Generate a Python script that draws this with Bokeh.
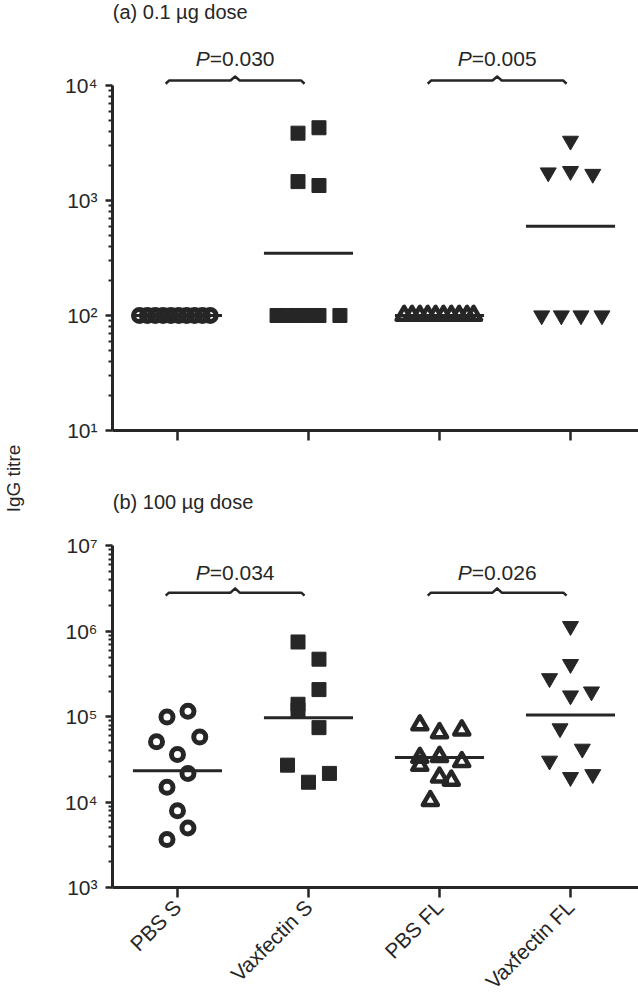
import math
from bokeh.plotting import figure
from bokeh.models import Range1d, FixedTicker, Label
from bokeh.layouts import row, column
from bokeh.embed import file_html
from bokeh.resources import INLINE
from bokeh.core.properties import value

INK = "#262626"
FONT = "Liberation Sans"

groups = ["PBS S", "Vaxfectin S", "PBS FL", "Vaxfectin FL"]
group_x = [1, 2, 3, 4]
markers = ["circle", "square", "triangle", "inverted_triangle"]

# ---------------- panel (a) 0.1 ug dose ----------------
a_pbs_s = [100, 100, 100, 100, 100, 100, 100, 100, 100, 100]
a_pbs_s_dx = [-0.29, -0.23, -0.17, -0.11, -0.05, 0.01, 0.07, 0.13, 0.19, 0.25]
a_vax_s = [3850, 4290, 1460, 1350, 100, 100, 100, 100, 100, 100]
a_vax_s_dx = [-0.08, 0.08, -0.08, 0.08, -0.24, -0.16, -0.08, 0.0, 0.08, 0.24]
a_pbs_fl = [100, 100, 100, 100, 100, 100, 100, 100, 100, 100]
a_pbs_fl_dx = [-0.27, -0.21, -0.15, -0.09, -0.03, 0.03, 0.09, 0.15, 0.21, 0.26]
a_vax_fl = [3300, 1750, 1800, 1700, 100, 100, 100, 100]
a_vax_fl_dx = [0.0, -0.17, 0.0, 0.17, -0.22, -0.07, 0.08, 0.24]
a_means = [100, 348, 100, 598]
a_pvalues = ["0.030", "0.005"]

# ---------------- panel (b) 100 ug dose ----------------
b_pbs_s = [99000, 116000, 50800, 58000, 36100, 21700, 14900, 7900, 4990, 3650]
b_pbs_s_dx = [-0.08, 0.08, -0.16, 0.17, 0.0, 0.08, -0.08, 0.0, 0.08, -0.08]
b_vax_s = [751000, 472000, 208000, 140000, 120000, 74500, 27100, 17100, 21700]
b_vax_s_dx = [-0.08, 0.08, 0.08, -0.08, -0.08, 0.08, -0.16, 0.0, 0.16]
b_pbs_fl = [80000, 64800, 69700, 33300, 26900, 34100, 29700, 19600, 18000, 10400]
b_pbs_fl_dx = [-0.15, 0.0, 0.17, -0.15, -0.15, 0.0, 0.17, 0.0, 0.09, -0.07]
b_vax_fl = [1150000, 413000, 282000, 177000, 197000, 72900, 42100, 30500, 19600, 21200]
b_vax_fl_dx = [0.0, 0.0, -0.16, 0.0, 0.16, -0.08, 0.09, -0.16, 0.0, 0.17]
b_means = [23300, 97300, 33400, 105000]
b_pvalues = ["0.034", "0.026"]

X_RANGE = (0.504, 4.519)
SUPER = {"1": "\u00b9", "2": "\u00b2", "3": "\u00b3", "4": "\u2074",
         "5": "\u2075", "6": "\u2076", "7": "\u2077"}


def style_axes(p, lo_exp, hi_exp, xlabels):
    p.outline_line_color = None
    p.xgrid.visible = False
    p.ygrid.visible = False
    p.background_fill_color = "white"
    p.border_fill_color = "white"
    majors = [10.0 ** k for k in range(lo_exp, hi_exp + 1)]
    minors = [m * 10.0 ** k for k in range(lo_exp, hi_exp) for m in range(2, 10)]
    ya = p.yaxis[0]
    ya.ticker = FixedTicker(ticks=majors, minor_ticks=minors)
    ya.bounds = (10.0 ** lo_exp, 10.0 ** hi_exp)
    ya.major_label_overrides = {10.0 ** k: "10" + SUPER[str(k)] for k in range(lo_exp, hi_exp + 1)}
    ya.axis_line_width = 3
    ya.axis_line_color = INK
    ya.major_tick_line_color = INK
    ya.minor_tick_line_color = INK
    ya.major_tick_line_width = 2.5
    ya.minor_tick_line_width = 2
    ya.major_tick_out = 7
    ya.major_tick_in = 0
    ya.minor_tick_out = 4
    ya.minor_tick_in = 0
    ya.major_label_standoff = 8
    ya.major_label_text_font = FONT
    ya.major_label_text_font_size = "21px"
    ya.major_label_text_color = INK

    xa = p.xaxis[0]
    xa.ticker = FixedTicker(ticks=group_x, minor_ticks=[])
    xa.axis_line_width = 3
    xa.axis_line_color = INK
    xa.major_tick_line_color = INK
    xa.major_tick_line_width = 2.5
    xa.major_tick_out = 10
    xa.major_tick_in = 0
    xa.minor_tick_out = 0
    xa.minor_tick_in = 0
    if xlabels:
        xa.major_label_overrides = {float(g): name for g, name in zip(group_x, groups)}
        xa.major_label_orientation = math.pi / 4
        xa.major_label_text_font = FONT
        xa.major_label_text_font_size = "21px"
        xa.major_label_text_color = INK
        xa.major_label_standoff = 6
    else:
        xa.major_label_overrides = {float(g): "" for g in group_x}


def draw_points(p, vals_list, dx_list, means):
    # mean lines
    p.segment(x0=[g - 0.34 for g in group_x], y0=means,
              x1=[g + 0.34 for g in group_x], y1=means,
              line_width=3, line_color=INK)
    for g, vals, dx, mk in zip(group_x, vals_list, dx_list, markers):
        xs = [g + d for d in dx]
        if mk == "circle":
            p.scatter(xs, vals, marker="circle", size=12, fill_color=None,
                      line_color=INK, line_width=5)
        elif mk == "square":
            p.scatter(xs, vals, marker="square", size=14, fill_color=INK,
                      line_color=INK, line_width=1)
        elif mk == "triangle":
            p.scatter(xs, vals, marker="triangle", size=15, fill_color=None,
                      line_color=INK, line_width=4.5, line_join="round")
        else:
            p.scatter(xs, vals, marker="inverted_triangle", size=16, fill_color=INK,
                      line_color=INK, line_width=1)


def draw_brackets(p, pvals, y_br, dip, rise, y_txt):
    fs = 21
    for (g1, g2), pv in zip([(1, 2), (3, 4)], pvals):
        xl = g1 - 0.09
        xr = g2 - 0.03
        xc = (xl + xr) / 2
        xs = [xl, xl + 0.025, xc - 0.035, xc, xc + 0.035, xr - 0.025, xr]
        ys = [y_br / dip, y_br, y_br, y_br * rise, y_br, y_br, y_br / dip]
        p.line(xs, ys, line_width=2.5, line_color=INK, line_join="round")
        rest = "=" + pv
        wp = 0.667 * fs
        wr = (0.584 + 0.278 + 0.556 * (len(pv) - 1)) * fs
        off = (wp - wr) / 2
        p.text(x=[xc], y=[y_txt], text=["P"], text_font=value(FONT),
               text_font_style="italic", text_font_size=f"{fs}px", text_align="right",
               text_baseline="middle", x_offset=off, text_color=INK)
        p.text(x=[xc], y=[y_txt], text=[rest], text_font=value(FONT),
               text_font_size=f"{fs}px", text_align="left",
               text_baseline="middle", x_offset=off, text_color=INK)


# ---- label column ----
lab = figure(width=26, height=1004, x_range=Range1d(0, 26), y_range=Range1d(0, 1004),
             toolbar_location=None, output_backend="svg", min_border=0,
             x_axis_location=None, y_axis_location=None)
lab.outline_line_color = None
lab.xgrid.visible = False
lab.ygrid.visible = False
lab.add_layout(Label(x=13, y=526, text="IgG titre", angle=math.pi / 2,
                     text_align="center", text_baseline="middle",
                     text_font=FONT, text_font_size="19px", text_color=INK))

# ---- top panel ----
pa = figure(width=612, height=470, x_range=Range1d(*X_RANGE),
            y_range=Range1d(10 ** 1, 10 ** 4.739), y_axis_type="log",
            toolbar_location=None, output_backend="svg",
            min_border_left=86, min_border_right=0, min_border_top=0, min_border_bottom=40)
style_axes(pa, 1, 4, xlabels=False)
draw_points(pa, [a_pbs_s, a_vax_s, a_pbs_fl, a_vax_fl],
            [a_pbs_s_dx, a_vax_s_dx, a_pbs_fl_dx, a_vax_fl_dx], a_means)
draw_brackets(pa, a_pvalues, 10 ** 4.043, 10 ** 0.028, 10 ** 0.035, 10 ** 4.235)
pa.add_layout(Label(x=X_RANGE[0] + 0.002, y=10 ** 4.635, text="(a) 0.1 \u00b5g dose",
                    text_align="left", text_baseline="middle",
                    text_font=FONT, text_font_size="20px", text_color=INK))

# ---- bottom panel ----
pb = figure(width=612, height=534, x_range=Range1d(*X_RANGE),
            y_range=Range1d(10 ** 3, 10 ** 7.884), y_axis_type="log",
            toolbar_location=None, output_backend="svg",
            min_border_left=86, min_border_right=0, min_border_top=0, min_border_bottom=114)
style_axes(pb, 3, 7, xlabels=True)
draw_points(pb, [b_pbs_s, b_vax_s, b_pbs_fl, b_vax_fl],
            [b_pbs_s_dx, b_vax_s_dx, b_pbs_fl_dx, b_vax_fl_dx], b_means)
draw_brackets(pb, b_pvalues, 10 ** 6.453, 10 ** 0.035, 10 ** 0.05, 10 ** 6.686)
pb.add_layout(Label(x=X_RANGE[0] + 0.002, y=10 ** 7.512, text="(b) 100 \u00b5g dose",
                    text_align="left", text_baseline="middle",
                    text_font=FONT, text_font_size="20px", text_color=INK))

layout = row(lab, column(pa, pb, spacing=0), spacing=0)
open("out.html", "w").write(file_html(layout, INLINE))
